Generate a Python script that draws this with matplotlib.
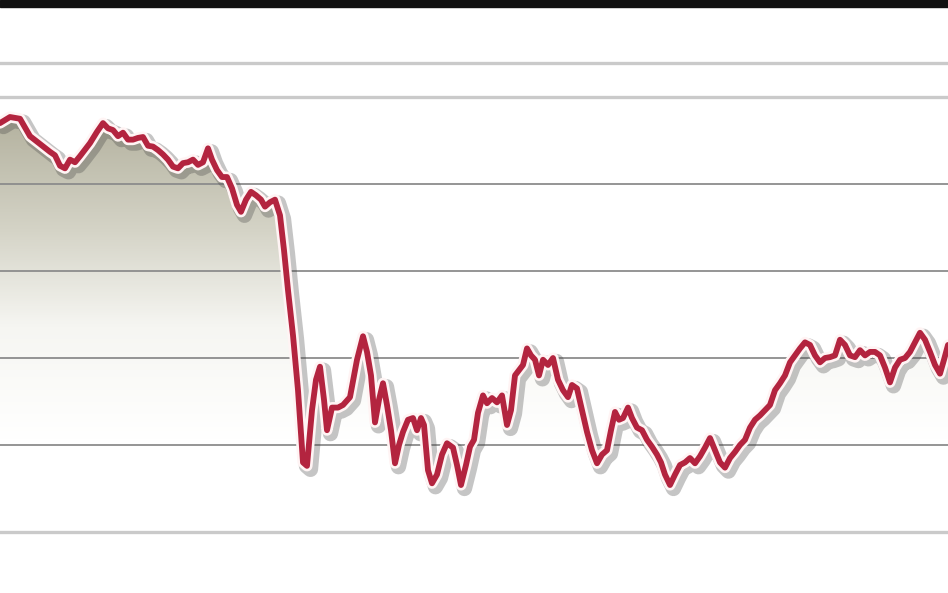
import numpy as np
import matplotlib
matplotlib.use("Agg")
import matplotlib.pyplot as plt
import matplotlib.patheffects as pe
from matplotlib.colors import LinearSegmentedColormap

# Data: time index and price level
days = [0, 10, 20, 30, 40, 50, 55, 60, 65, 70, 75, 80, 90, 97, 103, 108, 113, 118, 123, 128,
        133, 138, 143, 148, 153, 158, 163, 168, 173, 178, 183, 188, 193, 198, 203, 208, 212, 217,
        222, 227, 232, 237, 241, 246, 251, 256, 261, 265, 270, 275, 280, 284, 288, 293, 298, 303,
        307, 312, 316, 320, 324, 327, 332, 338, 343, 350, 357, 363, 367, 371, 375, 379, 383, 387,
        391, 395, 399, 403, 408, 413, 417, 421, 424, 428, 432, 437, 442, 447, 453, 457, 461, 466,
        470, 474, 478, 483, 487, 492, 497, 502, 507, 511, 515, 519, 523, 527, 531, 535, 539, 543,
        548, 553, 558, 563, 568, 572, 577, 582, 587, 592, 597, 602, 607, 611, 615, 619, 623, 628,
        632, 637, 642, 647, 652, 657, 661, 665, 670, 675, 680, 685, 690, 695, 700, 705, 710, 715,
        720, 725, 730, 735, 740, 745, 750, 755, 760, 765, 770, 775, 780, 785, 790, 795, 800, 805,
        810, 815, 820, 825, 830, 835, 840, 845, 850, 855, 860, 865, 870, 875, 880, 885, 890, 895,
        900, 905, 910, 915, 920, 925, 930, 935, 940, 944, 948]
values = [57.0, 57.7, 57.5, 55.5, 54.6, 53.7, 53.3, 52.1, 51.8, 52.8, 52.5, 53.2, 54.7, 56.0,
          57.0, 56.4, 56.2, 55.5, 55.9, 55.1, 55.1, 55.3, 55.4, 54.4, 54.3, 53.9, 53.4, 52.8,
          52.0, 51.8, 52.4, 52.5, 52.8, 52.2, 52.5, 54.1, 52.8, 51.6, 50.8, 50.8, 49.5, 47.6,
          46.8, 48.2, 49.1, 48.7, 48.2, 47.4, 47.9, 48.2, 46.4, 42.4, 37.8, 32.6, 26.3, 18.0,
          17.6, 24.0, 27.5, 29.0, 25.2, 21.7, 24.3, 24.3, 24.6, 25.5, 29.8, 32.5, 30.7, 28.0,
          22.6, 25.2, 27.1, 24.6, 21.7, 17.9, 20.0, 21.5, 22.9, 23.1, 21.7, 23.1, 22.3, 17.1,
          15.6, 16.6, 18.9, 20.2, 19.7, 17.7, 15.4, 17.7, 19.8, 20.6, 23.7, 25.7, 24.8, 25.4,
          24.9, 25.7, 22.3, 24.0, 28.0, 28.6, 29.2, 31.1, 30.3, 29.8, 28.0, 29.8, 29.2, 30.0,
          27.5, 26.3, 25.5, 26.9, 26.5, 24.0, 21.5, 19.4, 17.9, 18.9, 19.4, 21.7, 23.8, 22.9,
          23.1, 24.3, 23.1, 22.0, 21.7, 20.6, 19.8, 18.9, 18.0, 16.6, 15.4, 16.6, 17.7, 18.0,
          18.5, 17.9, 18.7, 19.7, 20.8, 19.4, 18.0, 17.4, 18.5, 19.2, 20.0, 20.6, 22.0, 22.9,
          23.4, 24.0, 24.6, 26.3, 27.1, 28.0, 29.5, 30.3, 31.1, 31.8, 31.5, 30.3, 29.5, 30.0,
          30.1, 30.3, 32.1, 31.5, 30.3, 30.1, 30.9, 30.3, 30.7, 30.7, 30.3, 28.9, 27.2, 28.9,
          29.8, 30.0, 30.7, 31.8, 32.9, 32.1, 30.7, 29.2, 28.2, 29.8, 31.5]
grid_major = [20, 30, 40, 50]
grid_light = [10, 60, 63.9]

x = np.array(days, dtype=float)
y = np.array(values)

fig = plt.figure(figsize=(9.48, 5.93), dpi=100)
fig.patch.set_facecolor("white")
ax = fig.add_axes([0, 0, 1, 1])
ax.set_facecolor("white")
y_lo, y_hi = 2.99, 71.15
ax.set_xlim(0, 948)
ax.set_ylim(y_lo, y_hi)
ax.axis("off")

# grid lines (drawn over the fill)
for g in grid_light:
    ax.axhline(g, color="#cacaca", lw=2.4, zorder=3)
for g in grid_major:
    ax.axhline(g, color="#8c8c8c", lw=1.3, zorder=3)

# gradient fill under the line
cmap = LinearSegmentedColormap.from_list(
    "fill", [(0.0, "#ffffff"), (0.35, "#f6f6f2"), (0.65, "#d4d3c6"), (1.0, "#b3b19e")])
poly = ax.fill_between(x, y, y_lo, color="none", lw=0, zorder=2)
yy = np.linspace(y_lo, y_hi, 256)
g = np.clip((yy - 20.5) / (58 - 20.5), 0, 1).reshape(-1, 1)
im = ax.imshow(g, extent=[0, 948, y_lo, y_hi], origin="lower", aspect="auto",
               cmap=cmap, vmin=0, vmax=1, zorder=2, interpolation="bilinear")
path = poly.get_paths()[0]
im.set_clip_path(path, transform=ax.transData)

# the line with white halo and shadow
ax.plot(x, y, color="#b3243f", lw=4.2, solid_joinstyle="round", solid_capstyle="round",
        zorder=5,
        path_effects=[
            pe.SimpleLineShadow(offset=(2.5, -2.5), shadow_color="#404040", alpha=0.3, linewidth=11),
            pe.Stroke(linewidth=8, foreground="#fff4f4"),
            pe.Normal()])

# black bar at top
fig.patches.append(plt.Rectangle((0, 1 - 7 / 593), 1, 7 / 593, transform=fig.transFigure,
                                 color="#111111", zorder=10))

fig.savefig("out.png", dpi=100)
